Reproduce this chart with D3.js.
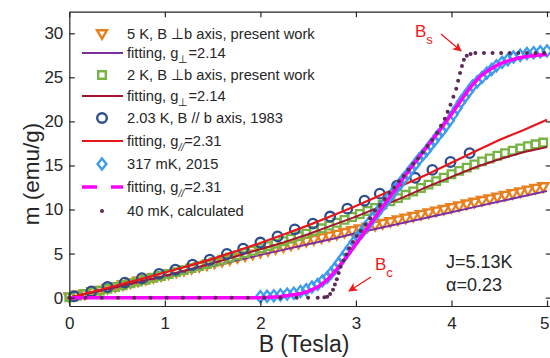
<!DOCTYPE html>
<html>
<head>
<meta charset="utf-8">
<script src="https://cdn.jsdelivr.net/npm/d3@7/dist/d3.min.js"></script>
<style>
  body { margin: 0; background: #fff; }
  svg text { font-family: Arial, "Liberation Sans", Helvetica, sans-serif; fill: #262626; }
</style>
</head>
<body>
<svg id="chart" width="550" height="358"></svg>
<script>
// ---- data (B in Tesla, m in emu/g) ----
const fieldGrid = [0.00,0.08,0.16,0.24,0.32,0.40,0.48,0.56,0.64,0.72,0.80,0.88,0.96,1.04,1.12,1.20,1.28,1.36,1.44,1.52,1.60,1.68,1.76,1.84,1.92,2.00,2.08,2.16,2.24,2.32,2.40,2.48,2.56,2.64,2.72,2.80,2.88,2.96,3.04,3.12,3.20,3.28,3.36,3.44,3.52,3.60,3.68,3.76,3.84,3.92,4.00,4.08,4.16,4.24,4.32,4.40,4.48,4.56,4.64,4.72,4.80,4.88,4.96];

const m5K = [0.05,0.25,0.40,0.62,0.80,1.02,1.22,1.42,1.63,1.83,2.04,2.24,2.45,2.66,2.86,3.07,3.27,3.48,3.68,3.89,4.09,4.29,4.50,4.70,4.90,5.11,5.31,5.52,5.72,5.93,6.13,6.34,6.54,6.74,6.95,7.15,7.36,7.56,7.77,7.97,8.17,8.38,8.58,8.78,8.98,9.19,9.39,9.59,9.79,9.99,10.19,10.39,10.59,10.79,10.99,11.18,11.38,11.58,11.77,11.97,12.16,12.36,12.55];

const m2K = [0.05,0.22,0.42,0.62,0.80,1.00,1.20,1.40,1.62,1.82,2.03,2.25,2.46,2.68,2.90,3.12,3.35,3.58,3.82,4.06,4.30,4.55,4.80,5.06,5.32,5.58,5.85,6.12,6.40,6.68,6.97,7.26,7.56,7.87,8.18,8.50,8.82,9.15,9.49,9.84,10.19,10.55,10.92,11.29,11.67,12.05,12.44,12.83,13.22,13.61,14.00,14.38,14.75,15.11,15.46,15.79,16.10,16.40,16.68,16.94,17.18,17.40,17.60];

const fitGrid = [0,0.25,0.5,0.75,1,1.25,1.5,1.75,2,2.25,2.5,2.75,3,3.25,3.5,3.75,4,4.25,4.5,4.75,5];
const fit5K = [0,0.6,1.2,1.8,2.4,3.0,3.6,4.2,4.85,5.45,6.05,6.65,7.3,7.9,8.5,9.1,9.7,10.3,10.9,11.5,12.1];
const fit2K = [0,0.6,1.2,1.85,2.5,3.2,3.9,4.7,5.5,6.3,7.2,8.2,9.2,10.3,11.4,12.6,13.7,14.8,15.7,16.5,17.1];
const fit1983 = [0,0.7,1.4,2.1,2.85,3.6,4.4,5.3,6.2,7.2,8.2,9.3,10.4,11.6,12.8,14.0,15.3,16.6,17.9,19.0,20.2];

const B1983 = [0.05,0.23,0.40,0.58,0.76,0.94,1.11,1.29,1.47,1.65,1.82,2.00,2.18,2.36,2.55,2.73,2.91,3.09,3.25,3.43,3.62,3.80,3.99,4.19];
const m1983 = [0.15,0.7,1.2,1.7,2.2,2.7,3.17,3.74,4.3,4.95,5.56,6.25,6.95,7.75,8.4,9.2,10.1,11.0,11.8,12.7,13.6,14.5,15.4,16.4];

const B317 = [2.00,2.07,2.14,2.21,2.28,2.35,2.42,2.48,2.54,2.60,2.65,2.70,2.74,2.78,2.82,2.86,2.90,2.94,2.98,3.02,3.06,3.10,3.14,3.18,3.22,3.26,3.30,3.34,3.38,3.42,3.46,3.50,3.54,3.58,3.62,3.66,3.70,3.74,3.78,3.82,3.86,3.90,3.94,3.98,4.02,4.06,4.10,4.14,4.18,4.22,4.27,4.32,4.37,4.42,4.47,4.53,4.59,4.65,4.72,4.79,4.86,4.93,5.00];
const m317 = [0.1,0.15,0.2,0.3,0.4,0.5,0.7,0.9,1.2,1.5,1.9,2.3,2.8,3.3,3.9,4.5,5.1,5.7,6.3,6.9,7.4,8.0,8.5,9.1,9.6,10.2,10.7,11.3,11.8,12.4,12.9,13.5,14.0,14.6,15.1,15.7,16.2,16.7,17.3,17.8,18.4,18.9,19.5,20.1,20.8,21.5,22.2,22.8,23.4,24.0,24.5,25.0,25.5,25.9,26.3,26.7,27.0,27.3,27.5,27.7,27.8,27.9,28.0];

const Bfit317 = [0,0.5,1,1.5,2.0,2.2,2.4,2.5,2.6,2.7,2.8,2.9,3.0,3.1,3.2,3.3,3.4,3.5,3.6,3.7,3.8,3.9,4.0,4.1,4.2,4.3,4.4,4.5,4.6,4.7,4.8,4.9,5.0];
const mfit317 = [0,0,0,0,0,0.1,0.4,0.7,1.2,2.0,3.2,4.6,6.1,7.6,9.1,10.6,12.1,13.6,15.1,16.5,17.9,19.3,20.8,22.4,23.9,25.1,25.9,26.5,26.9,27.2,27.4,27.5,27.6];

const B40mK = [0.00,0.17,0.34,0.51,0.68,0.85,1.02,1.19,1.36,1.53,1.70,1.87,2.04,2.21,2.38,2.50,2.60,2.67,2.70,2.73,2.76,2.78,2.80,2.82,2.84,2.87,2.90,2.93,2.97,3.01,3.05,3.10,3.15,3.20,3.25,3.30,3.35,3.40,3.45,3.50,3.55,3.60,3.65,3.70,3.75,3.80,3.85,3.89,3.93,3.96,3.99,4.02,4.05,4.07,4.09,4.11,4.13,4.16,4.20,4.25,4.34,4.43,4.52,4.61,4.70,4.79,4.88,4.97];
const m40mK = [0,0,0,0,0,0,0,0,0,0,0,0,0,0,0,0,0,0.05,0.1,0.4,0.9,1.5,2.1,2.8,3.5,4.2,4.9,5.6,6.3,7.0,7.6,8.3,9.0,9.9,10.5,11.2,11.9,12.5,13.2,13.8,14.5,15.2,15.8,16.5,17.2,17.9,18.7,19.5,20.3,21.1,21.9,22.8,23.7,24.6,25.5,26.3,27.0,27.45,27.65,27.75,27.75,27.75,27.75,27.75,27.75,27.75,27.75,27.75];

const xTicks = [0,1,2,3,4,5];
const yTicks = [0,5,10,15,20,25,30];

const legendLabels = [
  "5 K, B \u22A5b axis, present work",
  "fitting, g",
  "2 K, B \u22A5b axis, present work",
  "fitting, g",
  "2.03 K, B // b axis, 1983",
  "fitting, g",
  "317 mK, 2015",
  "fitting, g",
  "40 mK, calculated"
];
const legendSubs = [null, "\u22A5", null, "\u22A5", null, "//", null, "//", null];
const legendTails = [null, "=2.14", null, "=2.14", null, "=2.31", null, "=2.31", null];

// ---- drawing ----
const svg = d3.select("#chart");
// the right edge of the box sits just outside the picture, as in the original
const x = d3.scaleLinear().domain([0, 5.045]).range([69.3, 551.3]);
const y = d3.scaleLinear().domain([-0.95, 32.45]).range([306, 11.7]);

const col = {
  orange: "#E9801F", purple: "#7E2F9E", green: "#78B443", darkred: "#A2142F",
  navy: "#2C4D8E", red: "#E8161A", blue: "#3D9CEC", magenta: "#FF00FF", dots: "#5B2B55"
};

const triPath = "M-5,-3.8L5,-3.8L0,4.8Z";
const sqPath = "M-3.8,-3.8H3.8V3.8H-3.8Z";
const diaPath = "M0,-5.6L4.4,0L0,5.6L-4.4,0Z";

const line = d3.line().x(d => x(d[0])).y(d => y(d[1]));
const zip = (a, b) => a.map((v, i) => [v, b[i]]);

const layer = svg.append("g");

function drawMarkers(B, m, path, color, sw) {
  layer.append("g").selectAll("path").data(zip(B, m)).join("path")
    .attr("transform", d => `translate(${x(d[0])},${y(d[1])})`)
    .attr("d", path).attr("fill", "none").attr("stroke", color).attr("stroke-width", sw);
}
function drawLine(B, m, color, sw, dash) {
  layer.append("path").datum(zip(B, m)).attr("d", line)
    .attr("fill", "none").attr("stroke", color).attr("stroke-width", sw)
    .attr("stroke-dasharray", dash || null);
}

drawMarkers(fieldGrid, m5K, triPath, col.orange, 2.3);
drawLine(fitGrid, fit5K, col.purple, 2);
drawMarkers(fieldGrid, m2K, sqPath, col.green, 2.3);
drawLine(fitGrid, fit2K, col.darkred, 2);
layer.append("g").selectAll("circle").data(zip(B1983, m1983)).join("circle")
  .attr("cx", d => x(d[0])).attr("cy", d => y(d[1])).attr("r", 4.8)
  .attr("fill", "none").attr("stroke", col.navy).attr("stroke-width", 2.3);
drawLine(fitGrid, fit1983, col.red, 2.2);
drawMarkers(B317, m317, diaPath, col.blue, 2.3);
drawLine(Bfit317, mfit317, col.magenta, 3.5);
layer.append("g").selectAll("circle").data(zip(B40mK, m40mK)).join("circle")
  .attr("cx", d => x(d[0])).attr("cy", d => y(d[1])).attr("r", 2)
  .attr("fill", col.dots);

// ---- axes (boxed, inward ticks) ----
const frame = "#262626";
const axFont = 17;
const fmt = d3.format("d");
const gx = svg.append("g").attr("transform", "translate(0,306)")
  .call(d3.axisBottom(x).tickValues(xTicks).tickFormat(fmt).tickSizeInner(-5.5).tickSizeOuter(0).tickPadding(11));
const gy = svg.append("g").attr("transform", "translate(69.3,0)")
  .call(d3.axisLeft(y).tickValues(yTicks).tickFormat(fmt).tickSizeInner(-5.5).tickSizeOuter(0).tickPadding(6));
const gxt = svg.append("g").attr("transform", "translate(0,11.7)")
  .call(d3.axisTop(x).tickValues(xTicks).tickSizeInner(-5.5).tickSizeOuter(0).tickFormat(""));
const gyr = svg.append("g").attr("transform", "translate(551.3,0)")
  .call(d3.axisRight(y).tickValues(yTicks).tickSizeInner(-5.5).tickSizeOuter(0).tickFormat(""));
[gx, gy, gxt, gyr].forEach(g => {
  g.select(".domain").attr("stroke", frame).attr("stroke-width", 1.2);
  g.selectAll(".tick line").attr("stroke", frame).attr("stroke-width", 1.2);
  g.selectAll(".tick text").attr("font-size", axFont).attr("fill", frame)
    .attr("font-family", "Arial, 'Liberation Sans', sans-serif");
});
// last x label is clipped by the picture edge in the original; keep it inside
gx.selectAll(".tick text").filter(d => d === 5).attr("text-anchor", "end").attr("dx", "2");

svg.append("text").attr("x", 304).attr("y", 352).attr("text-anchor", "middle")
  .attr("font-size", 23).text("B (Tesla)");
svg.append("text").attr("transform", "translate(39,174) rotate(-90)")
  .attr("text-anchor", "middle").attr("font-size", 22.5).text("m (emu/g)");

// ---- legend ----
const legRows = [34, 53, 75, 96, 118, 141, 164, 187, 211];
const leg = svg.append("g");
legendLabels.forEach((lab, i) => {
  const ry = legRows[i];
  const t = leg.append("text").attr("x", 127).attr("y", ry + 5.3).attr("font-size", 14.7);
  t.append("tspan").text(lab);
  if (legendSubs[i]) {
    t.append("tspan").attr("dy", 5).attr("font-size", 10.5)
      .attr("font-style", legendSubs[i] === "//" ? "italic" : null).text(legendSubs[i]);
    t.append("tspan").attr("dy", -5).text(legendTails[i]);
  }
});
const sx = 102;
leg.append("path").attr("transform", `translate(${sx},${legRows[0]})`).attr("d", triPath)
  .attr("fill", "none").attr("stroke", col.orange).attr("stroke-width", 2.4);
leg.append("path").attr("transform", `translate(${sx},${legRows[2]})`).attr("d", sqPath)
  .attr("fill", "none").attr("stroke", col.green).attr("stroke-width", 2.4);
leg.append("circle").attr("cx", sx).attr("cy", legRows[4]).attr("r", 4.8)
  .attr("fill", "none").attr("stroke", col.navy).attr("stroke-width", 2.4);
leg.append("path").attr("transform", `translate(${sx},${legRows[6]})`).attr("d", diaPath)
  .attr("fill", "none").attr("stroke", col.blue).attr("stroke-width", 2.4);
leg.append("circle").attr("cx", sx).attr("cy", legRows[8]).attr("r", 2).attr("fill", col.dots);
[[1, col.purple, 2, null], [3, col.darkred, 2, null], [5, col.red, 2.2, null], [7, col.magenta, 3.5, "15,14"]]
  .forEach(([i, c, w, dash]) => {
    leg.append("line").attr("x1", 82).attr("x2", 123).attr("y1", legRows[i]).attr("y2", legRows[i])
      .attr("stroke", c).attr("stroke-width", w).attr("stroke-dasharray", dash);
  });

// ---- annotations ----
const red = "#F01818";
svg.append("defs").append("marker").attr("id", "ah").attr("viewBox", "0 0 10 10")
  .attr("refX", 9).attr("refY", 5).attr("markerWidth", 9).attr("markerHeight", 9)
  .attr("markerUnits", "userSpaceOnUse").attr("orient", "auto")
  .append("path").attr("d", "M0,0L10,5L0,10L2.5,5Z").attr("fill", red);

function label(xp, yp, main, sub) {
  const t = svg.append("text").attr("x", xp).attr("y", yp).attr("font-size", 17);
  t.append("tspan").attr("fill", red).text(main);
  t.append("tspan").attr("fill", red).attr("dy", 7).attr("font-size", 13).text(sub);
}
label(415, 37, "B", "s");
svg.append("line").attr("x1", 441).attr("y1", 34).attr("x2", 461).attr("y2", 51)
  .attr("stroke", red).attr("stroke-width", 1.3).attr("marker-end", "url(#ah)");
label(375, 270, "B", "c");
svg.append("line").attr("x1", 371).attr("y1", 277).attr("x2", 349).attr("y2", 291)
  .attr("stroke", red).attr("stroke-width", 1.3).attr("marker-end", "url(#ah)");

svg.append("text").attr("x", 446).attr("y", 268).attr("font-size", 18).attr("fill", "#111").text("J=5.13K");
svg.append("text").attr("x", 446).attr("y", 291).attr("font-size", 18).attr("fill", "#111").text("\u03B1=0.23");
</script>
</body>
</html>
